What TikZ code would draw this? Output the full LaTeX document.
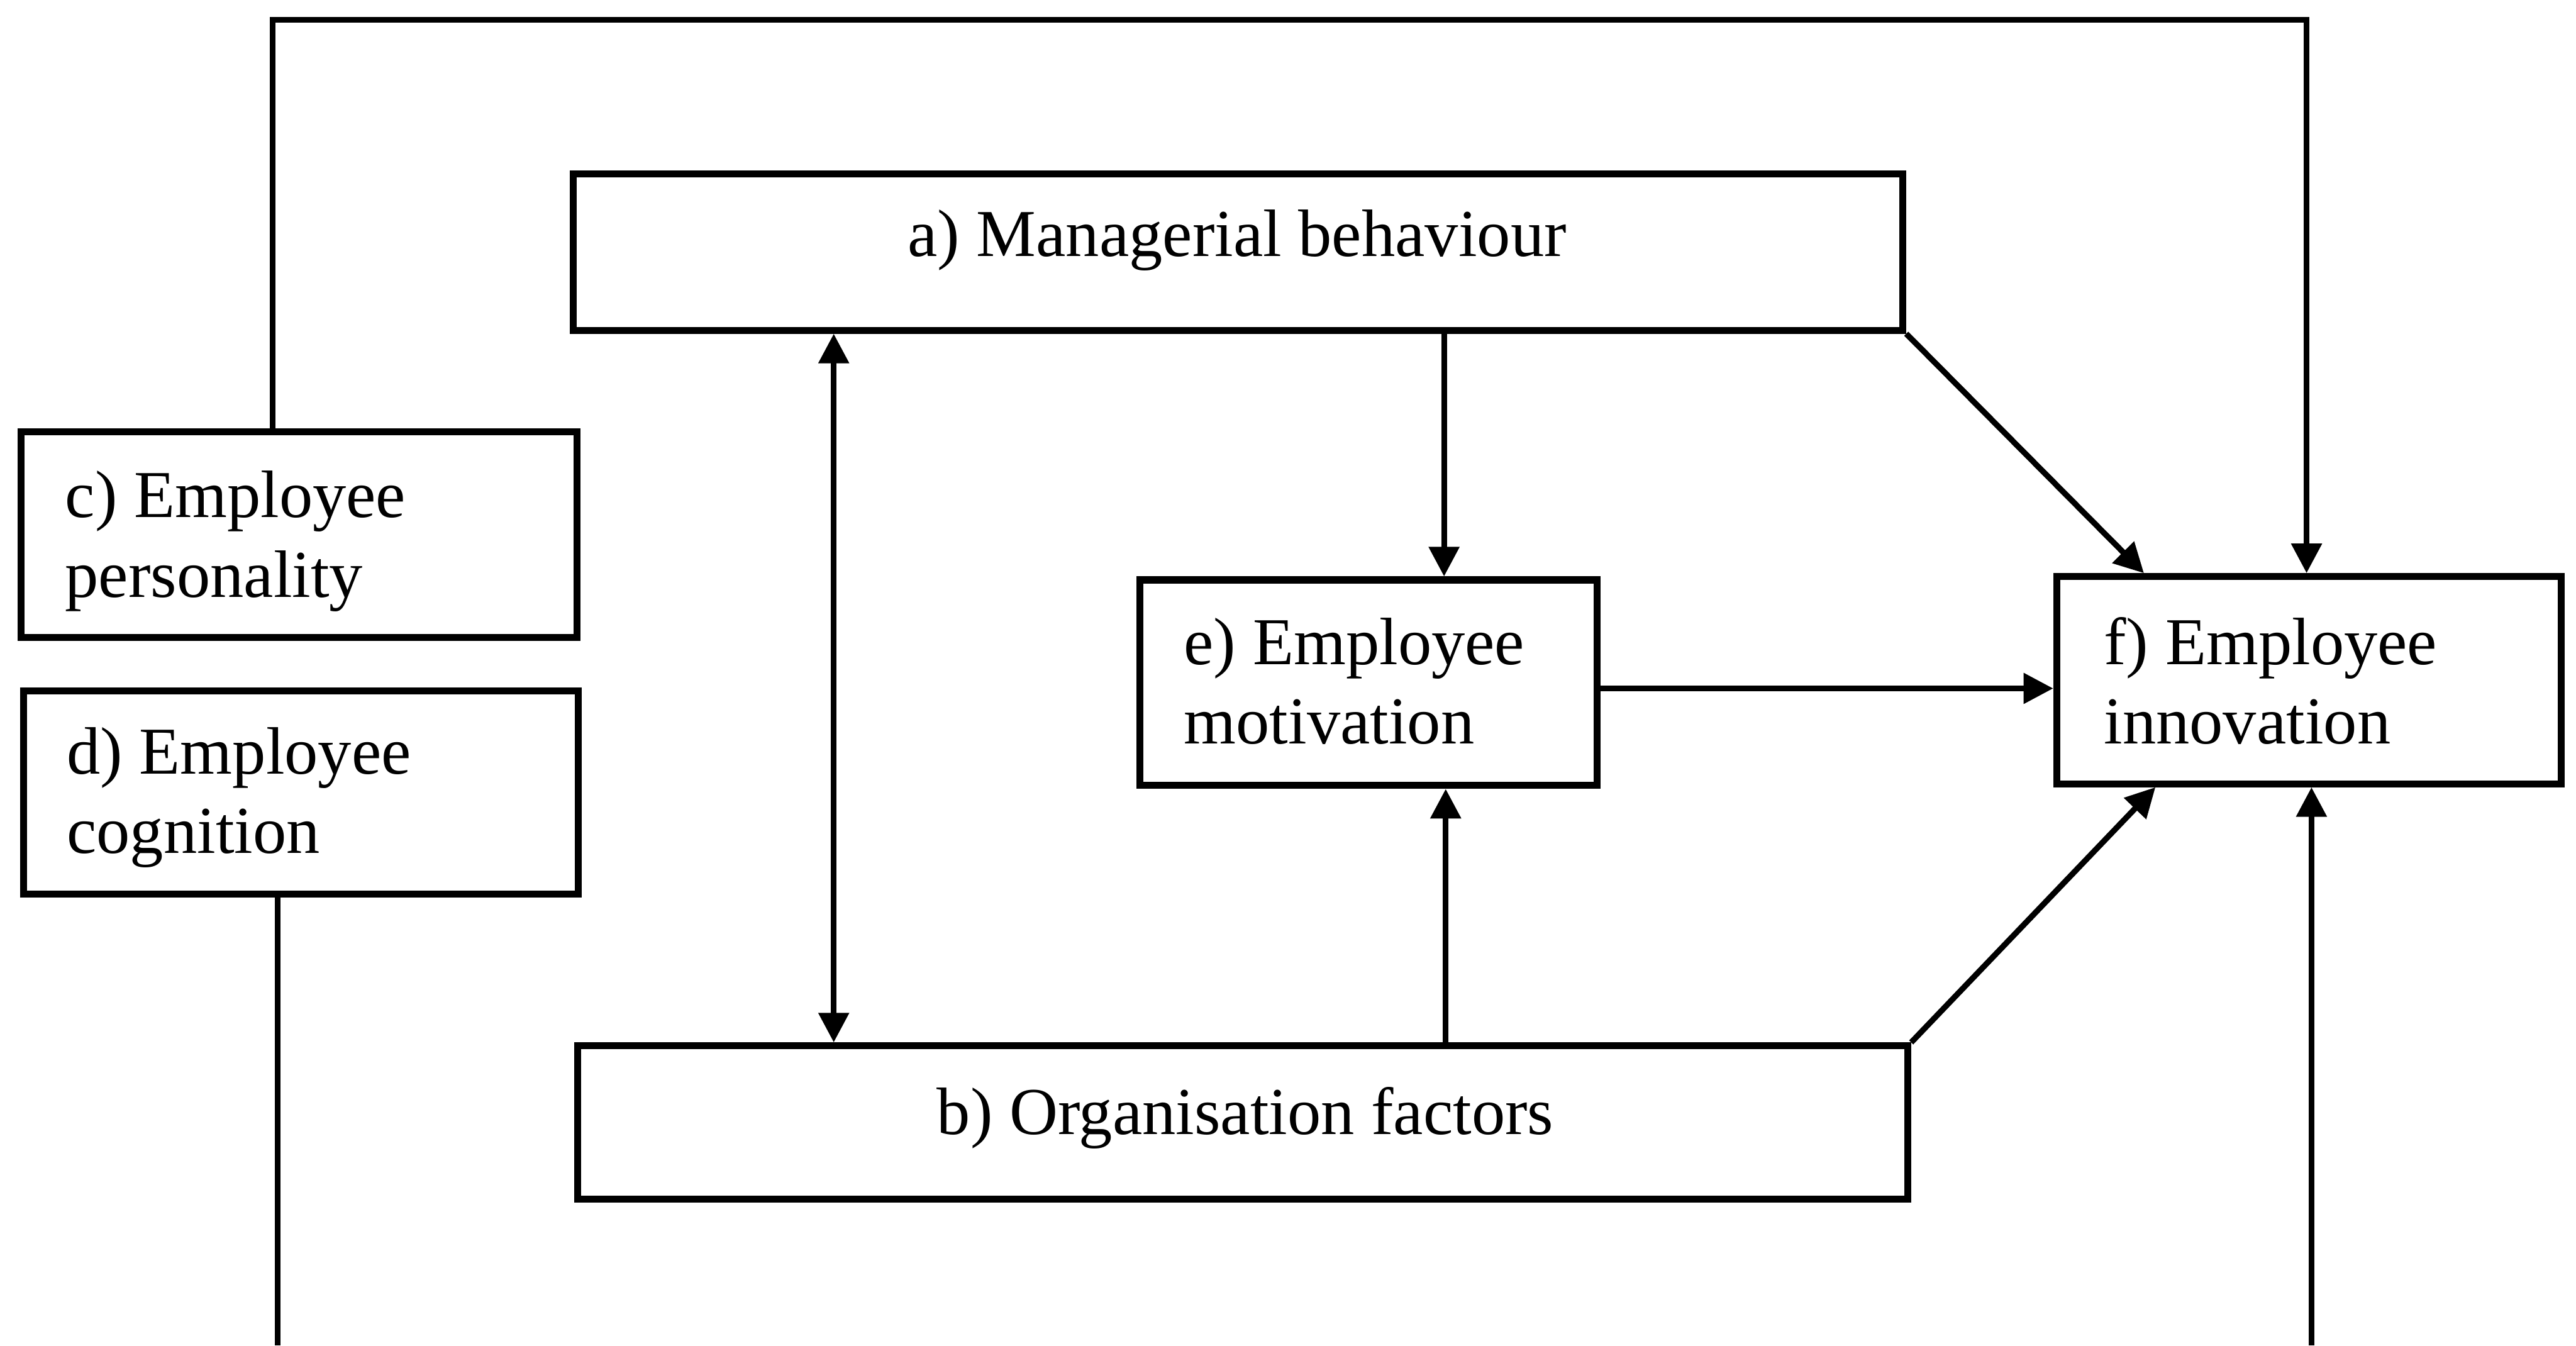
\documentclass[tikz,border=0pt]{standalone}
\usepackage{fontspec}
\setmainfont{Liberation Serif}
\usetikzlibrary{arrows.meta,calc}
% two left-aligned lines whose baseline is that of the first line
\newcommand\twolines[2]{\begin{tabular}[t]{@{}l@{}}#1\\#2\end{tabular}}
\begin{document}
\begin{tikzpicture}[x=0.01cm,y=-0.01cm,
  box/.style={draw, rectangle, line width=1.2pt, inner sep=0pt},
  lbl/.style={inner sep=0pt, font=\fontsize{11.6}{13.75}\selectfont},
  link/.style={line width=1pt, line join=miter},
  head/.tip={Triangle[length=1.8mm,width=1.8mm]}]
\useasboundingbox (0,0) rectangle (1568,819);

% boxes
\node[box, minimum width=8.09cm, minimum height=0.95cm]   (a) at (753.5,153.5) {};
\node[box, minimum width=8.09cm, minimum height=0.934cm]  (b) at (756.5,683.3) {};
\node[box, minimum width=3.38cm, minimum height=1.25cm]   (c) at (182,325.5) {};
\node[box, minimum width=3.375cm, minimum height=1.235cm] (d) at (183.3,482.3) {};
\node[box, minimum width=2.78cm, minimum height=1.25cm]   (e) at (833,415.5) {};
\node[box, minimum width=3.07cm, minimum height=1.26cm]   (f) at (1405.5,414) {};

% box texts
\node[lbl, anchor=base] (at) at (753,156) {a) Managerial behaviour};
\node[lbl, anchor=base] (bt) at (758,690.5) {b) Organisation factors};
\node[lbl, anchor=base west] (ct) at (39,315) {\twolines{c) Employee}{personality}};
\node[lbl, anchor=base west] (dt) at (40,471) {\twolines{d) Employee}{cognition}};
\node[lbl, anchor=base west] (et) at (720,404.5) {\twolines{e) Employee}{motivation}};
\node[lbl, anchor=base west] (ft) at (1280,404.5) {\twolines{f) Employee}{innovation}};

% corners of the outer loop and open ends at the bottom edge
\coordinate (loopL) at (166,12);
\coordinate (loopR) at (1404,12);
\coordinate (dEnd) at (169,819);
\coordinate (fStart) at (1407,819);

% connectors
\draw[link, -head] (166,0 |- c.north) -- (loopL) -- (loopR) -- (1404,0 |- f.north);
\draw[link, head-head] (507.5,0 |- a.south) -- (507.5,0 |- b.north);
\draw[link, -head] (879,0 |- a.south) -- (879,0 |- e.north);
\draw[link, -head] (880,0 |- b.north) -- (880,0 |- e.south);
\draw[link, -head] (e.east |- 0,419) -- (f.west |- 0,419);
\draw[link, -head] (a.south east) -- (1305,0 |- f.north);
\draw[link, -head] (b.north east) -- (1312,0 |- f.south);
\draw[link] (169,0 |- d.south) -- (dEnd);
\draw[link, -head] (fStart) -- (1407,0 |- f.south);
\end{tikzpicture}
\end{document}
